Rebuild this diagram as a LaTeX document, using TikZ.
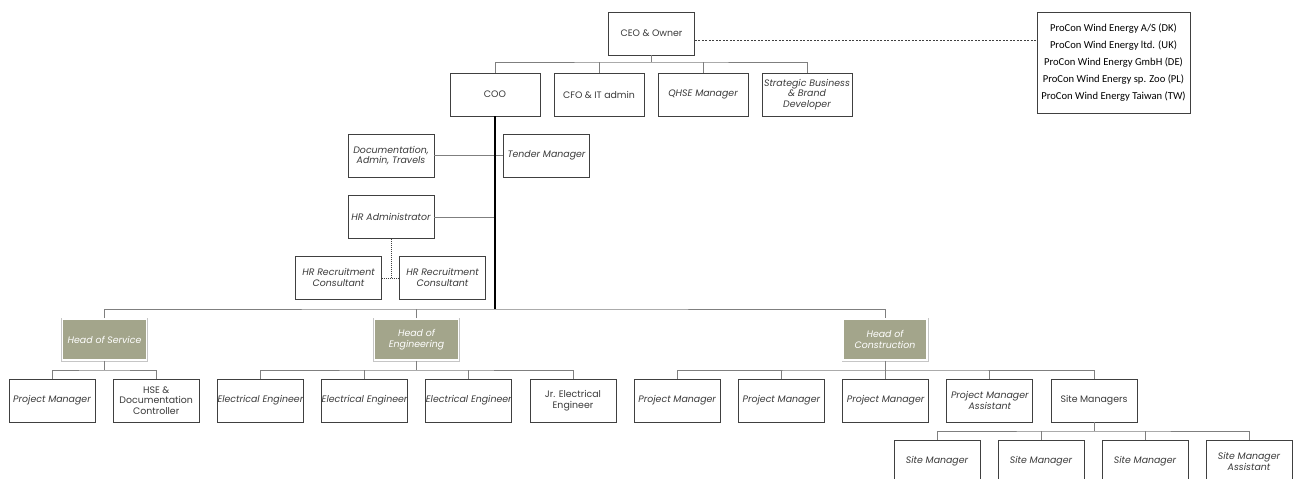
\documentclass[tikz,border=0pt]{standalone}
\usepackage{fontspec}
\setmainfont{Poppins}
\newfontfamily\carlitofont{Carlito}
\definecolor{boxc}{HTML}{404040}
\definecolor{connc}{HTML}{7F7F7F}
\definecolor{txtc}{HTML}{3A3A3A}
\definecolor{headfill}{HTML}{A3A58B}
\tikzset{
  box/.style={draw=boxc, line width=0.7pt, fill=white, minimum width=86, minimum height=43,
    inner sep=0pt, align=center, text=txtc, font=\fontsize{9.4}{10.8}\selectfont},
  tbox/.style={box, minimum width=90},
  it/.style={font=\fontsize{9.4}{10.8}\selectfont\itshape},
  headbox/.style={preaction={draw=gray!45, line width=3pt}, draw=white, line width=1.8pt,
    fill=headfill, minimum width=84, minimum height=41, inner sep=0pt, align=center,
    text=white, font=\fontsize{9.4}{10.8}\selectfont\itshape},
  conn/.style={draw=connc, line width=0.7pt},
  thick conn/.style={draw=black, line width=1.5pt},
  dots/.style={draw=boxc, line width=0.6pt, dash pattern=on 1pt off 1pt},
  dashconn/.style={draw=boxc, line width=0.5pt, dash pattern=on 2pt off 1.5pt},
}
\begin{document}
\begin{tikzpicture}[x=1pt,y=-1pt]
\clip (0,0) rectangle (1293,479);
\fill[white] (0,0) rectangle (1293,479);
% top
\node[box] (ceo) at (651.5,33.5) {CEO \& Owner};
\node[tbox] (coo) at (495,94.5) {COO};
\node[tbox] (cfo) at (599,94.5) {CFO \& IT admin};
\node[tbox,it] (qhse) at (703,94.5) {QHSE Manager};
\node[tbox,it] (strat) at (807,94.5) {Strategic Business\\\& Brand\\Developer};
\node[draw=boxc, line width=0.7pt, minimum width=153, minimum height=101, inner sep=0pt,
  align=center, text=black, font=\carlitofont\fontsize{10.6}{16.8}\selectfont] (group) at (1113.5,62.5)
  {ProCon Wind Energy A/S (DK)\\ProCon Wind Energy ltd. (UK)\\ProCon Wind Energy GmbH (DE)\\ProCon Wind Energy sp. Zoo (PL)\\ProCon Wind Energy Taiwan (TW)};
% staff
\node[box,it] (doc) at (391,155.5) {Documentation,\\Admin, Travels};
\node[box,it] (tender) at (546.5,155.5) {Tender Manager};
\node[box,it] (hradm) at (391,217) {HR Administrator};
\node[box,it] (hrr1) at (338.5,277.5) {HR Recruitment\\Consultant};
\node[box,it] (hrr2) at (442.5,277.5) {HR Recruitment\\Consultant};
% heads
\node[headbox] (hserv) at (104.5,339.5) {Head of Service};
\node[headbox] (heng) at (416.5,339.5) {Head of\\Engineering};
\node[headbox] (hcons) at (885,339.5) {Head of\\Construction};
% children
\node[box,it] (pm1) at (52,400.5) {Project Manager};
\node[box] (hse) at (156.2,400.5) {HSE \&\\Documentation\\Controller};
\node[box,it] (ee1) at (260.4,400.5) {Electrical Engineer};
\node[box,it] (ee2) at (364.6,400.5) {Electrical Engineer};
\node[box,it] (ee3) at (468.8,400.5) {Electrical Engineer};
\node[box] (jr) at (573,400.5) {Jr. Electrical\\Engineer};
\node[box,it] (pm2) at (677.2,400.5) {Project Manager};
\node[box,it] (pm3) at (781.4,400.5) {Project Manager};
\node[box,it] (pm4) at (885.6,400.5) {Project Manager};
\node[box,it] (pma) at (989.8,400.5) {Project Manager\\Assistant};
\node[box] (sms) at (1094,400.5) {Site Managers};
\node[box,it] (sm1) at (937,461.5) {Site Manager};
\node[box,it] (sm2) at (1041,461.5) {Site Manager};
\node[box,it] (sm3) at (1145,461.5) {Site Manager};
\node[box,it] (sma) at (1249,461.5) {Site Manager\\Assistant};
% junction coordinates
\coordinate (jtop) at (651.5,62);
\coordinate (bus) at (495,309);
\coordinate (jhr) at (495,217);
\coordinate (jsrv) at (104.5,370);
\coordinate (jeng) at (416.5,370);
\coordinate (jcon) at (885,370);
\coordinate (jsite) at (1094,431);
\coordinate (jrec) at (391,278);
% connectors
\draw[conn] (ceo.south) -- (jtop);
\draw[conn] (coo.north) |- (jtop) -| (strat.north);
\draw[conn] (cfo.north) -- (cfo.north |- jtop);
\draw[conn] (qhse.north) -- (qhse.north |- jtop);
\draw[dashconn] (ceo.east |- 0,40) -- (group.west |- 0,40);
\draw[conn] (doc.east) -- (tender.west);
\draw[conn] (hradm.east) -- (jhr);
\draw[thick conn] (coo.south) -- (bus);
\draw[dots] (hradm.south) -- (jrec);
\draw[dots] (hrr1.east |- jrec) -- (hrr2.west |- jrec);
\draw[conn] (hserv.north) |- (bus) -| (hcons.north);
\draw[conn] (heng.north) -- (heng.north |- bus);
\draw[conn] (hserv.south) -- (jsrv);
\draw[conn] (pm1.north) |- (jsrv) -| (hse.north);
\draw[conn] (heng.south) -- (jeng);
\draw[conn] (ee1.north) |- (jeng) -| (jr.north);
\draw[conn] (ee2.north) -- (ee2.north |- jeng);
\draw[conn] (ee3.north) -- (ee3.north |- jeng);
\draw[conn] (hcons.south) -- (jcon);
\draw[conn] (pm2.north) |- (jcon) -| (sms.north);
\draw[conn] (pm3.north) -- (pm3.north |- jcon);
\draw[conn] (pm4.north) -- (pm4.north |- jcon);
\draw[conn] (pma.north) -- (pma.north |- jcon);
\draw[conn] (sms.south) -- (jsite);
\draw[conn] (sm1.north) |- (jsite) -| (sma.north);
\draw[conn] (sm2.north) -- (sm2.north |- jsite);
\draw[conn] (sm3.north) -- (sm3.north |- jsite);
\end{tikzpicture}
\end{document}
